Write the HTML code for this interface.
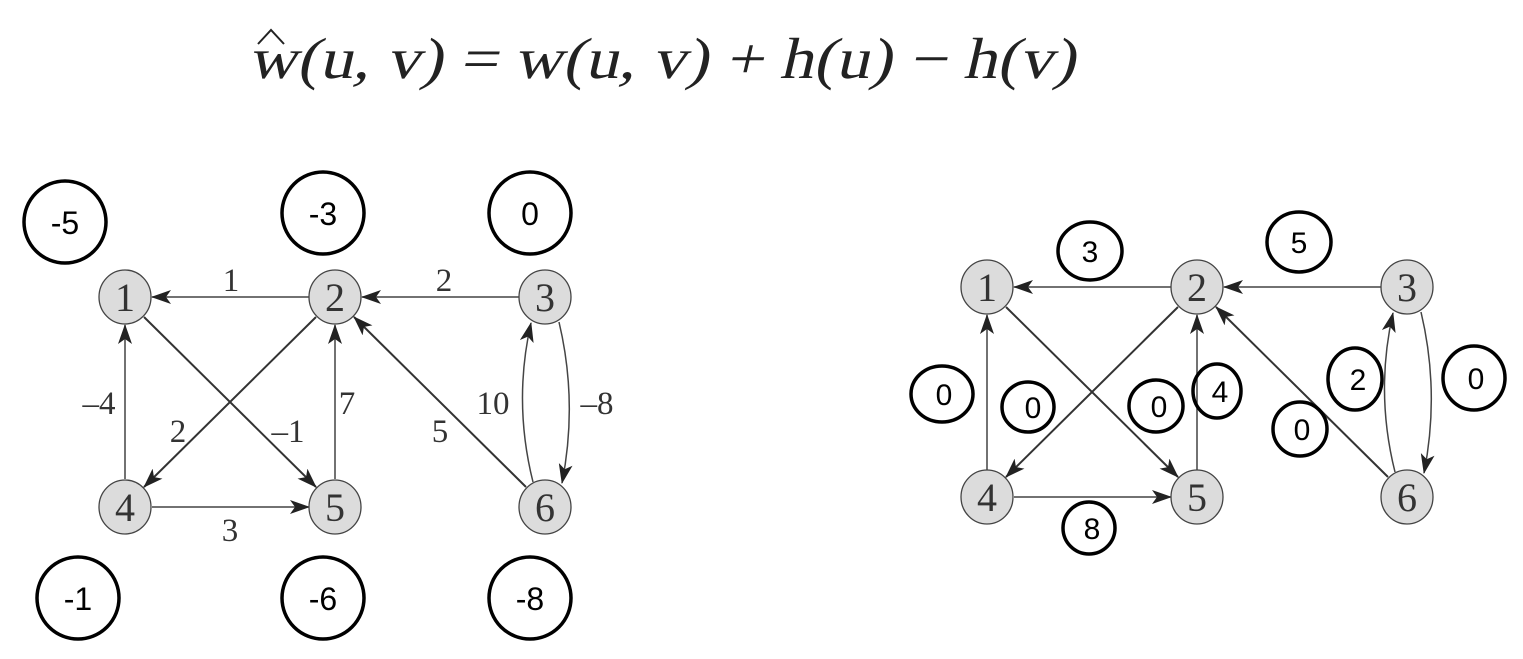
<!DOCTYPE html>
<html><head><meta charset="utf-8"><style>
html,body{margin:0;padding:0;background:#fff;}
svg{display:block;}
.n{fill:#dcdcdc;stroke:#444;stroke-width:1.3;}
.e{stroke:#444;stroke-width:1.5;fill:none;}
.ed{stroke:#333;stroke-width:2;fill:none;}
.c{fill:none;stroke:#000;stroke-width:3.5;}
</style></head><body>
<svg width="1523" height="659" viewBox="0 0 1523 659" xmlns="http://www.w3.org/2000/svg">
<defs>
<marker id="a" viewBox="0 0 20 14" refX="19" refY="7" markerWidth="20" markerHeight="14" markerUnits="userSpaceOnUse" orient="auto">
<path d="M0,0 L20,7 L0,14 L5,7 Z" fill="#222"/>
</marker>
</defs>
<g transform="translate(248,78) skewX(-13)">
<text x="0" y="0" font-family="'Liberation Serif', serif" font-size="58" fill="#222" textLength="827" lengthAdjust="spacingAndGlyphs">w(u, v) = w(u, v) + h(u) − h(v)</text>
</g>
<path d="M258,44 L271,30 L284,44" fill="none" stroke="#222" stroke-width="2"/>

<g font-family="'Liberation Serif', serif" fill="#333" text-anchor="middle">
<line class="e" x1="309" y1="297" x2="152" y2="297" marker-end="url(#a)"/>
<line class="e" x1="519" y1="297" x2="362" y2="297" marker-end="url(#a)"/>
<line class="e" x1="125" y1="479" x2="125" y2="325" marker-end="url(#a)"/>
<line class="e" x1="335" y1="479" x2="335" y2="325" marker-end="url(#a)"/>
<line class="e" x1="152" y1="507" x2="309" y2="507" marker-end="url(#a)"/>
<line class="ed" x1="144" y1="317" x2="316" y2="487" marker-end="url(#a)"/>
<line class="ed" x1="316" y1="317" x2="144" y2="487" marker-end="url(#a)"/>
<line class="ed" x1="526" y1="487" x2="354" y2="317" marker-end="url(#a)"/>
<path class="e" d="M533,482 Q513,402 531,323" marker-end="url(#a)"/>
<path class="e" d="M559,322 Q578,402 562,483" marker-end="url(#a)"/>
<ellipse class="n" cx="125" cy="297" rx="26" ry="27"/>
<ellipse class="n" cx="335" cy="297" rx="26" ry="27"/>
<ellipse class="n" cx="545" cy="297" rx="26" ry="27"/>
<ellipse class="n" cx="125" cy="507" rx="26" ry="27"/>
<ellipse class="n" cx="335" cy="507" rx="26" ry="27"/>
<ellipse class="n" cx="545" cy="507" rx="26" ry="27"/>
<g font-size="40">
<text x="125" y="311">1</text><text x="335" y="311">2</text><text x="545" y="311">3</text>
<text x="125" y="521">4</text><text x="335" y="521">5</text><text x="545" y="521">6</text>
</g>
<g font-size="33">
<text x="231" y="291">1</text>
<text x="444" y="291">2</text>
<text x="99" y="414">–4</text>
<text x="178" y="442">2</text>
<text x="288" y="442">–1</text>
<text x="347" y="414">7</text>
<text x="440" y="442">5</text>
<text x="493" y="414">10</text>
<text x="597" y="414">–8</text>
<text x="230" y="541">3</text>
</g>
</g>
<g font-family="'Liberation Sans', sans-serif" font-size="32" fill="#000" text-anchor="middle">
<ellipse class="c" cx="65" cy="222" rx="41" ry="41"/><text x="65" y="234">-5</text>
<ellipse class="c" cx="323" cy="213" rx="41" ry="41"/><text x="323" y="225">-3</text>
<ellipse class="c" cx="530" cy="213" rx="41" ry="41"/><text x="530" y="225">0</text>
<ellipse class="c" cx="78" cy="598" rx="41" ry="41"/><text x="78" y="610">-1</text>
<ellipse class="c" cx="323" cy="598" rx="41" ry="41"/><text x="323" y="610">-6</text>
<ellipse class="c" cx="530" cy="598" rx="41" ry="41"/><text x="530" y="610">-8</text>
</g>

<g font-family="'Liberation Serif', serif" fill="#333" text-anchor="middle">
<line class="e" x1="1171" y1="287" x2="1014" y2="287" marker-end="url(#a)"/>
<line class="e" x1="1381" y1="287" x2="1224" y2="287" marker-end="url(#a)"/>
<line class="e" x1="987" y1="470" x2="987" y2="315" marker-end="url(#a)"/>
<line class="e" x1="1197" y1="470" x2="1197" y2="315" marker-end="url(#a)"/>
<line class="e" x1="1014" y1="497" x2="1171" y2="497" marker-end="url(#a)"/>
<line class="ed" x1="1006" y1="307" x2="1178" y2="477" marker-end="url(#a)"/>
<line class="ed" x1="1178" y1="307" x2="1006" y2="477" marker-end="url(#a)"/>
<line class="ed" x1="1388" y1="477" x2="1216" y2="307" marker-end="url(#a)"/>
<path class="e" d="M1395,472 Q1375,392 1393,313" marker-end="url(#a)"/>
<path class="e" d="M1421,312 Q1440,392 1424,473" marker-end="url(#a)"/>
<ellipse class="n" cx="987" cy="287" rx="26" ry="27"/>
<ellipse class="n" cx="1197" cy="287" rx="26" ry="27"/>
<ellipse class="n" cx="1407" cy="287" rx="26" ry="27"/>
<ellipse class="n" cx="987" cy="497" rx="26" ry="27"/>
<ellipse class="n" cx="1197" cy="497" rx="26" ry="27"/>
<ellipse class="n" cx="1407" cy="497" rx="26" ry="27"/>
<g font-size="40">
<text x="987" y="301">1</text><text x="1197" y="301">2</text><text x="1407" y="301">3</text>
<text x="987" y="511">4</text><text x="1197" y="511">5</text><text x="1407" y="511">6</text>
</g>
</g>
<g font-family="'Liberation Sans', sans-serif" font-size="30" fill="#000" text-anchor="middle">
<ellipse class="c" cx="1090" cy="251" rx="32" ry="29"/><text x="1090" y="262">3</text>
<ellipse class="c" cx="1299" cy="242" rx="32" ry="30"/><text x="1299" y="253">5</text>
<ellipse class="c" cx="942" cy="394" rx="31" ry="28"/><text x="944" y="405">0</text>
<ellipse class="c" cx="1028" cy="407" rx="26" ry="25"/><text x="1033" y="418">0</text>
<ellipse class="c" cx="1156" cy="406" rx="27" ry="26"/><text x="1159" y="417">0</text>
<ellipse class="c" cx="1217" cy="391" rx="24" ry="27"/><text x="1220" y="402">4</text>
<ellipse class="c" cx="1300" cy="429" rx="27" ry="27"/><text x="1302" y="440">0</text>
<ellipse class="c" cx="1355" cy="379" rx="27" ry="31"/><text x="1358" y="390">2</text>
<ellipse class="c" cx="1474" cy="378" rx="31" ry="32"/><text x="1476" y="389">0</text>
<ellipse class="c" cx="1089" cy="528" rx="26" ry="26"/><text x="1092" y="539">8</text>
</g>
</svg>
</body></html>
